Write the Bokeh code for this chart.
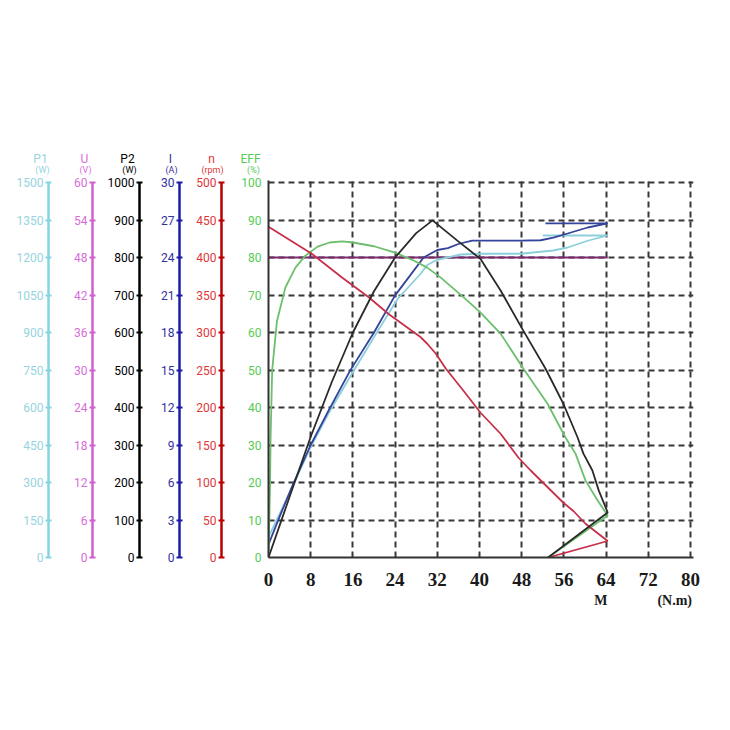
from bokeh.plotting import figure
from bokeh.layouts import row, column
from bokeh.models import Range1d, FixedTicker, LinearAxis
from bokeh.core.properties import value
from bokeh.embed import file_html
from bokeh.resources import INLINE

# ---------------- data ----------------
torque_ticks = [0, 8, 16, 24, 32, 40, 48, 56, 64, 72, 80]
eff_ticks = [0, 10, 20, 30, 40, 50, 60, 70, 80, 90, 100]
p1_ticks = [0, 150, 300, 450, 600, 750, 900, 1050, 1200, 1350, 1500]
u_ticks = [0, 6, 12, 18, 24, 30, 36, 42, 48, 54, 60]
p2_ticks = [0, 100, 200, 300, 400, 500, 600, 700, 800, 900, 1000]
i_ticks = [0, 3, 6, 9, 12, 15, 18, 21, 24, 27, 30]
n_ticks = [0, 50, 100, 150, 200, 250, 300, 350, 400, 450, 500]

axis_titles = ["P1", "U", "P2", "I", "n", "EFF"]
axis_units = ["(W)", "(V)", "(W)", "(A)", "(rpm)", "(%)"]
x_title_labels = {63: "M", 77: "(N.m)"}

# speed n (rpm) vs torque (N.m)
n_torque = [0, 8.2, 14, 19, 22.7, 28.8, 30.1, 31.7, 33.6, 37, 40.2, 44, 47.4, 49.7, 55.9, 57.8, 60.1, 64.3, 53.0]
n_rpm = [441, 405, 373, 347, 325, 294, 285, 272, 252, 222, 193, 165, 133, 116, 73, 62, 45, 22, 0]

# output power P2 (W)
p2_torque = [0, 4, 8, 12, 16, 20, 24, 28, 31.1, 35.8, 40.2, 44, 48.3, 52.5, 55.9, 58.6, 59.7, 61.4, 62.6, 64.3, 53.0]
p2_w = [0, 162, 322, 468, 600, 710, 800, 865, 899, 845, 796, 712, 605, 504, 410, 320, 277, 232, 179, 120, 0]

# efficiency EFF (%)
eff_torque = [0, 0.3, 0.4, 0.7, 1.6, 3.2, 5.1, 7, 9.3, 11.6, 14, 16, 20, 24, 27.5, 30.1, 32.6, 37.7,
              40.2, 44, 48.3, 52.9, 56.3, 58.2, 60.1, 62.4, 64.3, 53.0]
eff_pct = [0, 20, 32, 50, 63, 72, 77.3, 80.5, 82.9, 84, 84.3, 84, 83, 81.3, 79.2, 77.3, 74.7, 68.5,
           65.3, 59.7, 50.4, 41, 32, 27.7, 20.5, 15.2, 11.2, 0]

# current I (A)
i_torque = [0, 2, 4.6, 8, 11.4, 15.5, 20, 24, 27, 29.4, 32, 34, 36, 38.6, 47.8, 51.6, 54, 56.7, 60.5, 64.3, 52.5]
i_amp = [1.05, 3.15, 5.82, 9.0, 11.76, 14.97, 18.0, 20.97, 22.65, 24.0, 24.6, 24.75, 25.08, 25.35,
         25.35, 25.38, 25.59, 25.92, 26.4, 26.73, 26.73]

# input power P1 (W)
p1_torque = [0, 4.6, 8, 11.4, 16, 20.3, 24.5, 28.8, 30.1, 32, 36.4, 40.2, 47.8, 54, 56.7, 60.5, 64.3, 52.0]
p1_w = [82, 285, 442, 577, 742, 892, 1035, 1134, 1170, 1191, 1212, 1215, 1215, 1228, 1240, 1267, 1288, 1288]

# voltage U (V)
u_torque = [0, 64.3]
u_volt = [48, 48]

# ---------------- layout constants ----------------
W_TOTAL = 722
HEAD_H = 175
MBT = 5
FRAME_H = 377
ROW_H = 547
MBB = ROW_H - MBT - FRAME_H
EXT = FRAME_H / 375.0          # 375 px correspond to the full scale
LBL_FONT = "Roboto"

title_colors = ["#96d4e0", "#d86cd8", "#000000", "#3030a0", "#e03838", "#55cc55"]
title_x = [40, 84, 127, 170, 211, 250]
unit_x = [42, 85, 129, 171, 212, 253]

# ---------------- header with axis titles ----------------
head = figure(width=W_TOTAL, height=HEAD_H, x_range=Range1d(0, W_TOTAL), y_range=Range1d(HEAD_H, 0),
              toolbar_location=None, output_backend="svg", title=None,
              x_axis_location=None, y_axis_location=None, min_border=0,
              outline_line_color=None, background_fill_color="white", border_fill_color="white")
head.grid.visible = False
head.text(x=title_x, y=[158] * 6, text=axis_titles, text_color=title_colors,
          text_font=value(LBL_FONT), text_font_size="12px", text_align="center", text_baseline="middle")
head.text(x=unit_x, y=[169.5] * 6, text=axis_units, text_color=title_colors,
          text_font=value(LBL_FONT), text_font_size="9px", text_align="center", text_baseline="middle")


def axis_fig(width, mbl, top, ticks, line_color, label_color):
    fw = width - mbl
    f = figure(width=width, height=ROW_H, x_range=Range1d(0, fw), y_range=Range1d(0, top * EXT),
               toolbar_location=None, output_backend="svg", x_axis_location=None, title=None,
               min_border_left=mbl, min_border_right=0, min_border_top=MBT,
               min_border_bottom=MBB, outline_line_color=None, background_fill_color="white",
               border_fill_color="white")
    f.grid.visible = False
    ax = f.yaxis[0]
    ax.ticker = FixedTicker(ticks=ticks)
    ax.bounds = (0, top)
    ax.axis_line_color = line_color
    ax.axis_line_width = 2.5
    ax.major_tick_line_color = line_color
    ax.major_tick_line_width = 2
    ax.major_tick_in = 3
    ax.major_tick_out = 3
    ax.minor_tick_line_color = None
    ax.major_label_standoff = 2
    ax.major_label_text_color = label_color
    ax.major_label_text_font = LBL_FONT
    ax.major_label_text_font_size = "12px"
    return f


f_p1 = axis_fig(60, 48, 1500, p1_ticks, "#86d4e0", "#96d4e0")
f_u = axis_fig(44, 32, 60, u_ticks, "#d060d0", "#d86cd8")
f_p2 = axis_fig(44, 32, 1000, p2_ticks, "#000000", "#000000")
f_i = axis_fig(43, 31, 30, i_ticks, "#1c1ca8", "#3030a0")
f_n = axis_fig(42, 30, 500, n_ticks, "#b80000", "#e03838")

# ---------------- main chart ----------------
X_END = 80 * 425 / 422.0
mf = figure(width=489, height=ROW_H, x_range=Range1d(0, X_END), y_range=Range1d(0, 100 * EXT),
            toolbar_location=None, output_backend="svg", title=None,
            min_border_left=35, min_border_right=29, min_border_top=MBT, min_border_bottom=MBB,
            outline_line_color=None, background_fill_color="white", border_fill_color="white")
mf.extra_y_ranges = {
    "p1": Range1d(0, 1500 * EXT),
    "u": Range1d(0, 60 * EXT),
    "p2": Range1d(0, 1000 * EXT),
    "i": Range1d(0, 30 * EXT),
    "n": Range1d(0, 500 * EXT),
}

mf.xgrid.ticker = FixedTicker(ticks=torque_ticks[1:])
mf.ygrid.ticker = FixedTicker(ticks=eff_ticks[1:])
for g in (mf.xgrid[0], mf.ygrid[0]):
    g.grid_line_color = "#383838"
    g.grid_line_width = 2
    g.grid_line_dash = "6 4"

xa = mf.xaxis[0]
xa.ticker = FixedTicker(ticks=torque_ticks)
xa.axis_line_color = "#333333"
xa.axis_line_width = 2
xa.major_tick_out = 0
xa.major_tick_in = 0
xa.minor_tick_line_color = None
xa.major_label_standoff = 15
xa.major_label_text_font = "Liberation Serif"
xa.major_label_text_font_style = "bold"
xa.major_label_text_font_size = "19px"
xa.major_label_text_color = "#1a1a1a"

xa2 = LinearAxis(ticker=FixedTicker(ticks=list(x_title_labels.keys())),
                 major_label_overrides=x_title_labels)
xa2.axis_line_color = None
xa2.major_tick_line_color = None
xa2.minor_tick_line_color = None
xa2.major_tick_out = 0
xa2.major_tick_in = 0
xa2.major_label_standoff = 4
xa2.major_label_text_font = "Liberation Serif"
xa2.major_label_text_font_style = "bold"
xa2.major_label_text_font_size = "14px"
xa2.major_label_text_color = "#1a1a1a"
mf.add_layout(xa2, "below")

ya = mf.yaxis[0]
ya.ticker = FixedTicker(ticks=eff_ticks)
ya.axis_line_color = "#333333"
ya.axis_line_width = 2
ya.major_tick_out = 0
ya.major_tick_in = 0
ya.minor_tick_line_color = None
ya.major_label_standoff = 7
ya.major_label_text_color = "#55cc55"
ya.major_label_text_font = LBL_FONT
ya.major_label_text_font_size = "12px"

mf.line(u_torque, u_volt, y_range_name="u", line_color="#7a2a6e", line_width=1.8)
mf.line(p1_torque, p1_w, y_range_name="p1", line_color="#8ccfdc", line_width=1.8)
mf.line(i_torque, i_amp, y_range_name="i", line_color="#34449a", line_width=1.8)
mf.line(eff_torque, eff_pct, line_color="#6cbf6c", line_width=1.8)
mf.line(n_torque, n_rpm, y_range_name="n", line_color="#c8304a", line_width=1.8)
mf.line(p2_torque, p2_w, y_range_name="p2", line_color="#2a2a2a", line_width=1.8)

layout = column(head, row(f_p1, f_u, f_p2, f_i, f_n, mf, spacing=0), spacing=0)

open("out.html", "w").write(file_html(layout, INLINE))
